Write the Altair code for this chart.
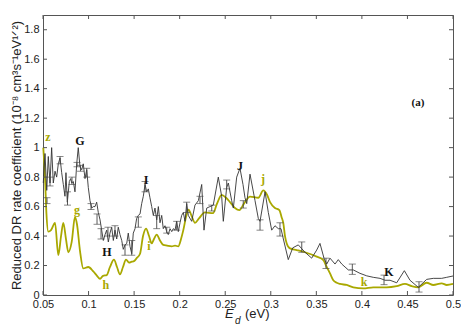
import altair as alt
import pandas as pd

# theory curve (yellow)
theory_E = [0.0503, 0.0522, 0.0538, 0.0558, 0.0588, 0.0632, 0.0668, 0.0698, 0.0723, 0.0752,
            0.0778, 0.0815, 0.0851, 0.0873, 0.0906, 0.0942, 0.0997, 0.1052, 0.1093, 0.1126,
            0.1159, 0.1199, 0.1235, 0.1279, 0.1312, 0.1345, 0.1378, 0.1411, 0.1444, 0.1474,
            0.1499, 0.1528, 0.1565, 0.1598, 0.1631, 0.1664, 0.1693, 0.1718, 0.1748, 0.1784,
            0.1820, 0.1861, 0.1913, 0.1949, 0.1985, 0.2015, 0.2040, 0.2070, 0.2097, 0.2135,
            0.2168, 0.2212, 0.2278, 0.2366, 0.2410, 0.2461, 0.2509, 0.2553, 0.2607, 0.2655,
            0.2706, 0.2772, 0.2863, 0.2918, 0.2959, 0.2992, 0.3046, 0.3094, 0.3118, 0.3138,
            0.3156, 0.3175, 0.3211, 0.3285, 0.3376, 0.3504, 0.3577, 0.3614, 0.3650, 0.3686,
            0.3724, 0.3760, 0.3833, 0.3906, 0.4016, 0.4125, 0.4272, 0.4382, 0.4473, 0.4547,
            0.4619, 0.4711, 0.4784, 0.4876, 0.4931, 0.5000]
theory_rate = [1.00, 0.80, 0.55, 0.43, 0.44, 0.49, 0.27, 0.40, 0.49, 0.38,
               0.29, 0.36, 0.53, 0.48, 0.30, 0.18, 0.19, 0.16, 0.13, 0.11,
               0.13, 0.135, 0.19, 0.24, 0.19, 0.14, 0.19, 0.24, 0.22, 0.226,
               0.23, 0.25, 0.28, 0.40, 0.45, 0.40, 0.35, 0.38, 0.41, 0.37,
               0.34, 0.335, 0.33, 0.335, 0.33, 0.38, 0.44, 0.53, 0.58, 0.53,
               0.49, 0.52, 0.56, 0.555, 0.62, 0.68, 0.66, 0.63, 0.59, 0.576,
               0.62, 0.667, 0.66, 0.71, 0.68, 0.63, 0.59, 0.576, 0.53, 0.486,
               0.40, 0.35, 0.316, 0.305, 0.29, 0.26, 0.237, 0.19, 0.147, 0.10,
               0.083, 0.075, 0.068, 0.052, 0.045, 0.052, 0.052, 0.06, 0.075, 0.06,
               0.052, 0.083, 0.068, 0.079, 0.068, 0.075]

# experiment (black)
exp_E = [0.0503, 0.0522, 0.0541, 0.0558, 0.0577, 0.0595, 0.0613, 0.0632, 0.0650, 0.0668,
         0.0687, 0.0705, 0.0723, 0.0741, 0.0752, 0.0767, 0.0789, 0.0804, 0.0815, 0.0833,
         0.0851, 0.0870, 0.0887, 0.0906, 0.0925, 0.0942, 0.0961, 0.0980, 0.0997, 0.1016,
         0.1035, 0.1052, 0.1071, 0.1089, 0.1107, 0.1126, 0.1144, 0.1162, 0.1181, 0.1199,
         0.1217, 0.1235, 0.1254, 0.1272, 0.1290, 0.1309, 0.1326, 0.1345, 0.1364, 0.1381,
         0.1400, 0.1419, 0.1436, 0.1455, 0.1474, 0.1491, 0.1510, 0.1528, 0.1546, 0.1565,
         0.1583, 0.1601, 0.1620, 0.1638, 0.1656, 0.1674, 0.1693, 0.1711, 0.1729, 0.1748,
         0.1766, 0.1784, 0.1803, 0.1820, 0.1839, 0.1858, 0.1875, 0.1894, 0.1913, 0.1930,
         0.1949, 0.1967, 0.1985, 0.2004, 0.2022, 0.2040, 0.2059, 0.2077, 0.2095, 0.2132,
         0.2168, 0.2205, 0.2242, 0.2267, 0.2297, 0.2333, 0.2369, 0.2424, 0.2461, 0.2479,
         0.2516, 0.2534, 0.2571, 0.2589, 0.2626, 0.2662, 0.2695, 0.2717, 0.2736, 0.2772,
         0.2827, 0.2863, 0.2882, 0.2937, 0.2973, 0.3010, 0.3046, 0.3083, 0.3112, 0.3138,
         0.3192, 0.3241, 0.3302, 0.3376, 0.3449, 0.3504, 0.3540, 0.3584, 0.3614, 0.3650,
         0.3705, 0.3741, 0.3779, 0.3815, 0.3851, 0.3906, 0.3979, 0.4053, 0.4125, 0.4199,
         0.4254, 0.4309, 0.4382, 0.4466, 0.4528, 0.4619, 0.4711, 0.4784, 0.4876, 0.4931,
         0.5000]
exp_rate = [0.76, 0.96, 0.71, 0.94, 0.76, 1.00, 0.76, 0.84, 0.80, 0.89,
            0.93, 0.83, 0.75, 0.67, 0.83, 0.63, 0.77, 0.79, 0.76, 0.77,
            0.70, 0.89, 1.00, 0.87, 0.85, 0.89, 0.79, 0.85, 0.73, 0.64,
            0.59, 0.60, 0.60, 0.63, 0.56, 0.51, 0.44, 0.37, 0.41, 0.44,
            0.36, 0.42, 0.46, 0.37, 0.44, 0.38, 0.46, 0.41, 0.37, 0.31,
            0.34, 0.35, 0.42, 0.33, 0.28, 0.42, 0.45, 0.52, 0.54, 0.55,
            0.62, 0.67, 0.75, 0.70, 0.72, 0.66, 0.60, 0.54, 0.59, 0.51,
            0.60, 0.49, 0.54, 0.45, 0.47, 0.43, 0.41, 0.45, 0.43, 0.45,
            0.44, 0.50, 0.43, 0.49, 0.54, 0.56, 0.50, 0.62, 0.54, 0.50,
            0.61, 0.64, 0.75, 0.44, 0.59, 0.60, 0.61, 0.80, 0.67, 0.50,
            0.73, 0.76, 0.64, 0.59, 0.80, 0.86, 0.75, 0.66, 0.62, 0.82,
            0.64, 0.52, 0.50, 0.70, 0.56, 0.44, 0.47, 0.45, 0.45, 0.38,
            0.24, 0.32, 0.34, 0.29, 0.25, 0.305, 0.35, 0.25, 0.21, 0.25,
            0.21, 0.24, 0.21, 0.19, 0.17, 0.17, 0.147, 0.13, 0.12, 0.113,
            0.10, 0.10, 0.083, 0.165, 0.10, 0.052, 0.106, 0.113, 0.113, 0.12,
            0.129]

# error bars
err_E = [0.0544, 0.0577, 0.0687, 0.0769, 0.0818, 0.0873, 0.0912, 0.0980, 0.1027, 0.1093,
         0.1137, 0.1213, 0.1290, 0.1400, 0.1474, 0.1546, 0.1620, 0.1748, 0.1858, 0.1967,
         0.2077, 0.2223, 0.2352, 0.2516, 0.2698, 0.2882, 0.3101, 0.3340, 0.3606, 0.3895,
         0.4243, 0.4627]
err_lo = [0.62, 0.74, 0.89, 0.61, 0.75, 0.87, 0.84, 0.80, 0.58, 0.48,
          0.38, 0.40, 0.40, 0.27, 0.27, 0.46, 0.70, 0.45, 0.42, 0.44,
          0.56, 0.62, 0.57, 0.72, 0.59, 0.44, 0.40, 0.29, 0.18, 0.14,
          0.07, 0.02]
err_hi = [0.66, 0.80, 0.94, 0.70, 0.80, 0.90, 0.88, 0.86, 0.62, 0.55,
          0.45, 0.46, 0.47, 0.34, 0.37, 0.53, 0.77, 0.54, 0.46, 0.50,
          0.63, 0.67, 0.61, 0.78, 0.64, 0.51, 0.49, 0.36, 0.25, 0.21,
          0.135, 0.09]

theory_labels = ["z", "g", "h", "i", "j", "k"]
theory_label_E = [0.0555, 0.0873, 0.1191, 0.1663, 0.2915, 0.4023]
theory_label_R = [1.07, 0.576, 0.068, 0.33, 0.786, 0.088]
exp_labels = ["G", "H", "I", "J", "K"]
exp_label_E = [0.0906, 0.1202, 0.1631, 0.2662, 0.4298]
exp_label_R = [1.044, 0.29, 0.78, 0.875, 0.156]
panel_label = ["(a)"]
panel_label_E = [0.4616]
panel_label_R = [1.30]

x_ticks = [0.05, 0.1, 0.15, 0.2, 0.25, 0.3, 0.35, 0.4, 0.45, 0.5]
y_ticks = [0, 0.2, 0.4, 0.6, 0.8, 1.0, 1.2, 1.4, 1.6, 1.8]

YELLOW = "#a9a800"
INK = "#222222"
FONT = "Liberation Sans"

theory_df = pd.DataFrame({"E": theory_E, "R": theory_rate})
exp_df = pd.DataFrame({"E": exp_E, "R": exp_rate})
err_df = pd.DataFrame({"E": err_E, "R": err_lo, "R2": err_hi})
caps_df = pd.DataFrame({"E": err_E + err_E, "R": err_lo + err_hi})
tl_df = pd.DataFrame({"E": theory_label_E, "R": theory_label_R, "t": theory_labels})
el_df = pd.DataFrame({"E": exp_label_E, "R": exp_label_R, "t": exp_labels})
pl_df = pd.DataFrame({"E": panel_label_E, "R": panel_label_R, "t": panel_label})
xt_df = pd.DataFrame({"E": x_ticks})
yt_df = pd.DataFrame({"R": y_ticks})

X = alt.X("E:Q", scale=alt.Scale(domain=[0.05, 0.5], nice=False, zero=False),
          axis=alt.Axis(values=x_ticks, format="~g", ticks=False, grid=False, domain=False,
                        labelPadding=3, labelFontSize=11, labelFont=FONT, labelColor=INK,
                        title=None, labelFlush=False))
Y = alt.Y("R:Q", scale=alt.Scale(domain=[0, 1.9], nice=False, zero=True),
          axis=alt.Axis(values=y_ticks, format="~g", ticks=False, grid=False, domain=False,
                        labelPadding=4, labelFontSize=11, labelFont=FONT, labelColor=INK,
                        labelFlush=False,
                        title="Reduced DR rate coefficient (10⁻⁸ cm³s⁻¹eV¹ᐟ²)",
                        titleFont=FONT, titleFontSize=13, titleFontWeight="normal",
                        titleColor=INK, titleX=-27, titleY=140, titleBaseline="middle"))

theory = alt.Chart(theory_df).mark_line(color=YELLOW, strokeWidth=1.8, interpolate="monotone").encode(x=X, y=Y)
exp = alt.Chart(exp_df).mark_line(color="#333333", strokeWidth=0.9).encode(x=X, y=Y)
errs = alt.Chart(err_df).mark_rule(color="#444444", strokeWidth=0.9).encode(x=X, y=Y, y2="R2:Q")
caps = alt.Chart(caps_df).mark_tick(color="#444444", orient="horizontal", thickness=0.9, size=7).encode(x=X, y=Y)

serif = "Liberation Serif"
tl = alt.Chart(tl_df).mark_text(font=serif, fontSize=12, fontWeight="bold", color=YELLOW).encode(x=X, y=Y, text="t:N")
el = alt.Chart(el_df).mark_text(font=serif, fontSize=12, fontWeight="bold", color="#111111").encode(x=X, y=Y, text="t:N")
pl = alt.Chart(pl_df).mark_text(font=serif, fontSize=11, fontWeight="bold", color="#111111").encode(x=X, y=Y, text="t:N")

tick_color = "#555555"
lt = alt.Chart(yt_df).mark_rule(color=tick_color).encode(y=Y, x=alt.value(0), x2=alt.value(4))
rt = alt.Chart(yt_df).mark_rule(color=tick_color).encode(y=Y, x=alt.value(406), x2=alt.value(410))
bt = alt.Chart(xt_df).mark_rule(color=tick_color).encode(x=X, y=alt.value(276), y2=alt.value(280))
tt = alt.Chart(xt_df).mark_rule(color=tick_color).encode(x=X, y=alt.value(0), y2=alt.value(4))

xe = alt.Chart(pd.DataFrame({"t": ["E"]})).mark_text(font=FONT, fontSize=13, fontStyle="italic", color=INK, align="left", baseline="middle").encode(
    x=alt.value(182), y=alt.value(299), text="t:N")
xd = alt.Chart(pd.DataFrame({"t": ["d"]})).mark_text(font=FONT, fontSize=10, fontStyle="italic", color=INK, align="left", baseline="middle").encode(
    x=alt.value(192), y=alt.value(306), text="t:N")
xu = alt.Chart(pd.DataFrame({"t": ["(eV)"]})).mark_text(font=FONT, fontSize=13, color=INK, align="left", baseline="middle").encode(
    x=alt.value(202), y=alt.value(299), text="t:N")

chart = alt.layer(theory, exp, errs, caps, tl, el, pl, lt, rt, bt, tt, xe, xd, xu).properties(
    width=410, height=280,
    autosize=alt.AutoSizeParams(type="none"),
    padding={"left": 35, "top": 7, "right": 8, "bottom": 30},
).configure_view(stroke="#555555", strokeWidth=1)

chart.save("out.html", embed_options={"renderer": "svg", "actions": False})
